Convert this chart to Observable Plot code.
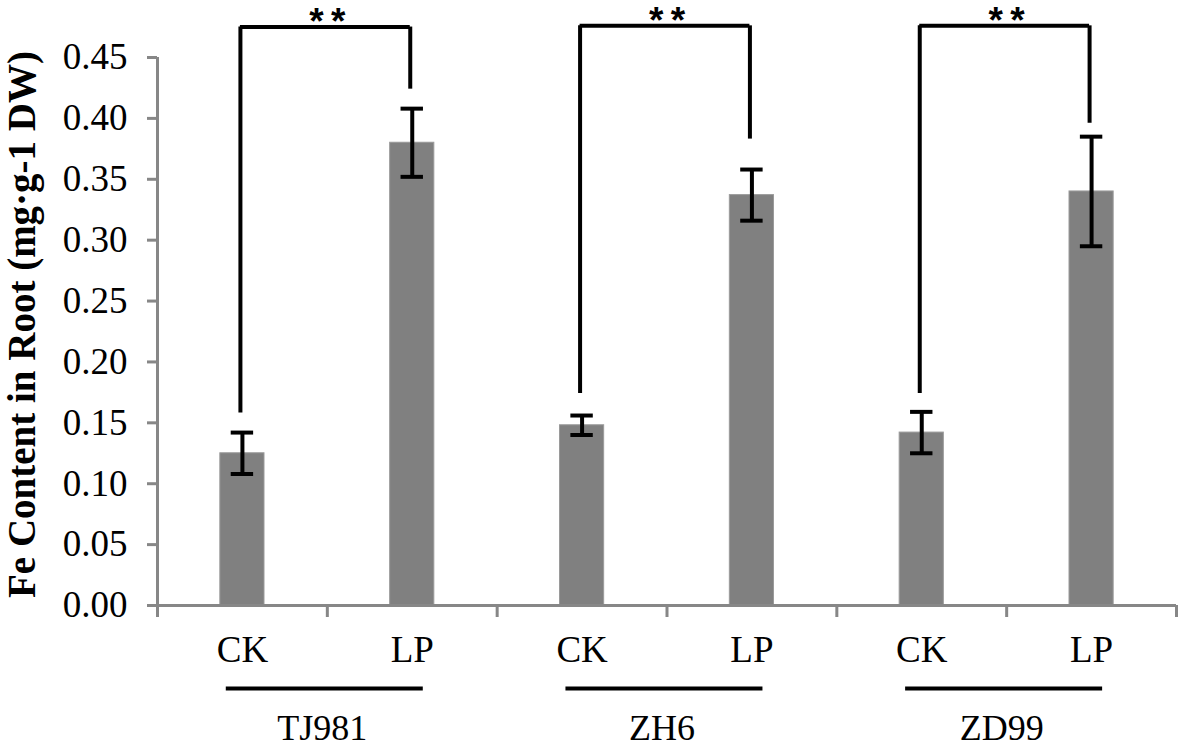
<!DOCTYPE html>
<html>
<head>
<meta charset="utf-8">
<script src="https://cdn.jsdelivr.net/npm/d3@7"></script>
<script src="https://cdn.jsdelivr.net/npm/@observablehq/plot@0.6"></script>
<style>
  html, body { margin: 0; padding: 0; background: #fff; }
  #chart svg { display: block; }
</style>
</head>
<body>
<div id="chart"></div>
<script>
// ---- data ----
const genotypes = ["TJ981", "ZH6", "ZD99"];
const treatments = ["CK", "LP"];
const meanCK = [0.125, 0.148, 0.142];
const meanLP = [0.380, 0.337, 0.340];
const errCK = [0.017, 0.008, 0.017];
const errLP = [0.028, 0.021, 0.045];
const sigLabels = ["**", "**", "**"];
const bracketTop = [0.475, 0.476, 0.476];
const bracketLowCK = [0.158, 0.174, 0.174];
const bracketLowLP = [0.424, 0.383, 0.396];
const yTicks = [0, 0.05, 0.10, 0.15, 0.20, 0.25, 0.30, 0.35, 0.40, 0.45];
const yTitle = "Fe Content in Root (mg·g-1 DW)";

// ---- derived tables ----
const rows = genotypes.flatMap((g, gi) => treatments.map((t, ti) => ({
  genotype: g,
  treatment: t,
  pos: gi * 2 + ti + 0.5,
  mean: ti === 0 ? meanCK[gi] : meanLP[gi],
  err: ti === 0 ? errCK[gi] : errLP[gi]
})));
const groups = genotypes.map((g, gi) => ({
  genotype: g,
  ck: gi * 2 + 0.5,
  lp: gi * 2 + 1.5,
  mid: gi * 2 + 1,
  top: bracketTop[gi],
  lowCK: bracketLowCK[gi],
  lowLP: bracketLowLP[gi],
  sig: sigLabels[gi]
}));
const boundaries = d3.range(0, rows.length + 1);

const serif = "Liberation Serif, Times New Roman, serif";
const axisGray = "#878787";
const barHalf = 0.13, capHalf = 0.066;

const chart = Plot.plot({
  width: 1178,
  height: 749,
  marginLeft: 157,
  marginRight: 2,
  marginTop: 57,
  marginBottom: 144,
  style: { fontFamily: serif, background: "#fff", color: "#000" },
  x: { type: "linear", domain: [0, rows.length], axis: null },
  y: { domain: [0, 0.45], axis: null },
  marks: [
    // bars
    Plot.rectY(rows, { x1: d => d.pos - barHalf, x2: d => d.pos + barHalf, y1: 0, y2: "mean", fill: "#808080", stroke: "#9a9a9a", strokeWidth: 1 }),
    // y axis
    Plot.ruleX([0], { y1: 0, y2: 0.45, stroke: axisGray, strokeWidth: 3 }),
    Plot.axisY({ ticks: yTicks, tickFormat: d3.format(".2f"), tickSize: 10, tickPadding: 20, stroke: axisGray, strokeWidth: 3, fill: "#000", fontSize: 37, fontFamily: serif, label: null }),
    // x axis
    Plot.ruleY([0], { x1: 0, x2: rows.length, stroke: axisGray, strokeWidth: 3 }),
    Plot.axisX({ ticks: boundaries, tickFormat: () => "", tickSize: 12, stroke: axisGray, strokeWidth: 3, label: null }),
    // treatment labels
    Plot.text(rows, { x: "pos", y: 0, text: "treatment", dy: 45, fontSize: 37, fontFamily: serif, fill: "#000" }),
    // genotype underline + label
    Plot.ruleY(groups, { y: 0, x1: d => d.ck - 0.095, x2: d => d.lp + 0.065, dy: 83, stroke: "#000", strokeWidth: 4 }),
    Plot.text(groups, { x: "mid", y: 0, text: "genotype", dx: -5, dy: 123, fontSize: 36, fontFamily: serif, fill: "#000" }),
    // error bars
    Plot.ruleX(rows, { x: "pos", y1: d => d.mean - d.err, y2: d => d.mean + d.err, stroke: "#000", strokeWidth: 4 }),
    Plot.ruleY(rows, { y: d => d.mean + d.err, x1: d => d.pos - capHalf, x2: d => d.pos + capHalf, stroke: "#000", strokeWidth: 4 }),
    Plot.ruleY(rows, { y: d => d.mean - d.err, x1: d => d.pos - capHalf, x2: d => d.pos + capHalf, stroke: "#000", strokeWidth: 4 }),
    // significance brackets
    Plot.ruleX(groups, { x: "ck", y1: "lowCK", y2: "top", stroke: "#000", strokeWidth: 4, dx: -2 }),
    Plot.ruleX(groups, { x: "lp", y1: "lowLP", y2: "top", stroke: "#000", strokeWidth: 4, dx: -2 }),
    Plot.ruleY(groups, { y: "top", x1: "ck", x2: "lp", stroke: "#000", strokeWidth: 4, dx: -2 }),
    Plot.text(groups, { x: "mid", y: "top", text: d => d.sig.split("").join("\u2009"), dy: -5, fontSize: 37, fontWeight: "bold", fontFamily: "Liberation Sans, Arial, sans-serif", fill: "#000" }),
    // y title
    Plot.text([yTitle], { frameAnchor: "left", textAnchor: "middle", text: d => d, rotate: -90, dx: -135, dy: -7, fontSize: 39, fontWeight: "bold", fontFamily: serif, fill: "#000" })
  ]
});
document.getElementById("chart").appendChild(chart);
</script>
</body>
</html>
